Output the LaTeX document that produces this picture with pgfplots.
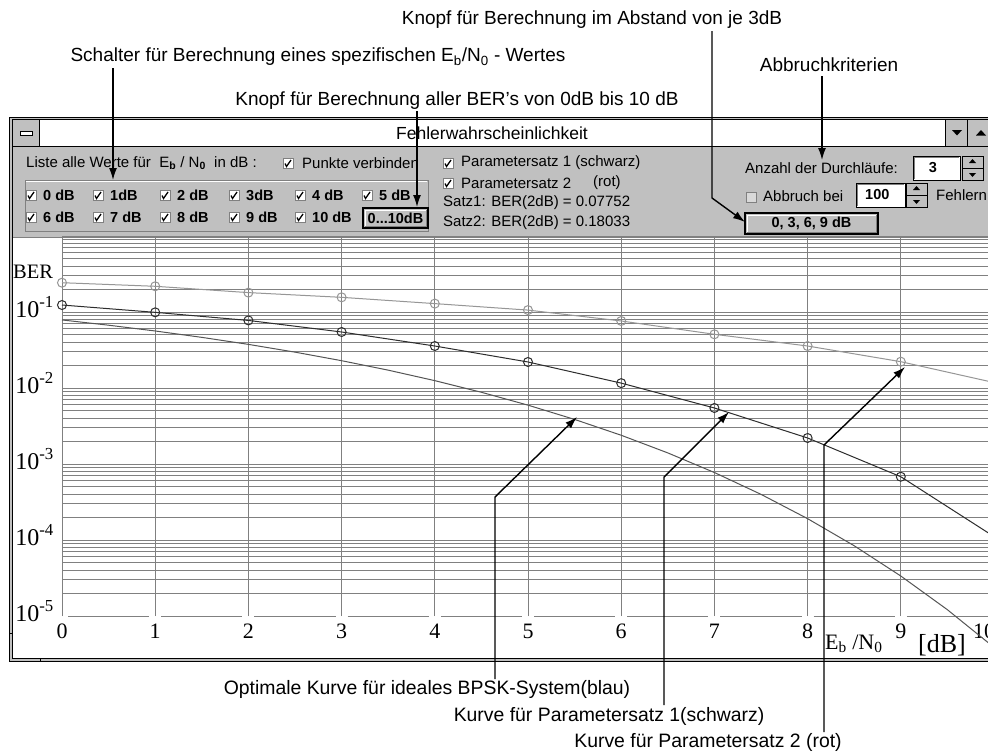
\documentclass[border=0pt]{standalone}
\usepackage{fontspec}
\setmainfont{Liberation Sans}
\newfontfamily\tnr{Liberation Serif}
\usepackage{pgfplots}
\pgfplotsset{compat=1.18}
\usetikzlibrary{arrows.meta}
\definecolor{wgray}{RGB}{192,192,192}
\definecolor{dgray}{RGB}{128,128,128}
\definecolor{gridc}{RGB}{128,128,128}
\definecolor{ctwo}{RGB}{150,150,150}
\definecolor{cone}{RGB}{45,45,45}
\definecolor{cbpsk}{RGB}{85,85,85}
\newcommand\fs[1]{\fontsize{#1pt}{#1pt}\selectfont}
\newcommand\cb[2]{%
  \filldraw[fill=white,draw=dgray] (#1,#2-5) rectangle ++(10,10);
  \draw[line width=1.3pt] (#1+2,#2+0.5) -- (#1+3.5,#2+3.5) -- (#1+8,#2-3);}
\newcommand\btn[4]{%
  \filldraw[fill=wgray,draw=black,line width=1.5pt] (#1,#2) rectangle (#3,#4);
  \draw[white,line width=1pt] (#1+2,#4-2) -- (#1+2,#2+2) -- (#3-2,#2+2);
  \draw[dgray,line width=1pt] (#1+2,#4-2) -- (#3-2,#4-2) -- (#3-2,#2+2);}
\newcommand\spin[4]{%
  \filldraw[fill=wgray,draw=black] (#1,#2) rectangle (#3,#4);
  \draw[black] (#1,{(#2+#4)/2}) -- (#3,{(#2+#4)/2});
  \fill ({(#1+#3)/2-3.5},{#2+7}) -- ({(#1+#3)/2+3.5},{#2+7}) -- ({(#1+#3)/2},{#2+3}) -- cycle;
  \fill ({(#1+#3)/2-3.5},{#4-7}) -- ({(#1+#3)/2+3.5},{#4-7}) -- ({(#1+#3)/2},{#4-3}) -- cycle;}
\tikzset{ann/.style={line width=1.4pt,-{Latex[length=12pt,width=8pt]}},
  every node/.style={inner sep=0pt}}
\begin{document}
\begin{tikzpicture}
\begin{scope}[x=1pt,y=-1pt]
  \fill[white] (0,0) rectangle (988,755);
  % window frame
  \filldraw[fill=wgray,draw=black] (9,117) rectangle (1000,661);
  \filldraw[fill=white,draw=black] (12.5,119) rectangle (997,658);
  \draw (40,658) -- (40,661);
  \draw (9,633) -- (12.5,633);
  % title bar
  \filldraw[fill=white,draw=black] (12.5,119) rectangle (997,146);
  \filldraw[fill=wgray,draw=black] (12.5,119) rectangle (39,146);
  \filldraw[fill=white,draw=black] (20,131.5) rectangle (32,135.5);
  \filldraw[fill=wgray,draw=black] (945,119) rectangle (967,146);
  \filldraw[fill=wgray,draw=black] (967,119) rectangle (990,146);
  \fill (952,130) -- (962,130) -- (957,135.5) -- cycle;
  \fill (976,135.5) -- (986,135.5) -- (981,130) -- cycle;
  \node[font=\fs{17.5}] at (492,133) {Fehlerwahrscheinlichkeit};
  % panel
  \fill[wgray] (13,146.5) rectangle (996.5,237);
  \draw[dgray] (13,237) -- (996.5,237);
  \begin{scope}[font=\fs{15}]
    \node[anchor=west] at (26,163) {Liste alle Werte für~ E\textsubscript{\textbf{b}} / N\textsubscript{\textbf{0}}~ in dB :};
    \cb{283}{163}
    \node[anchor=west] at (302,163) {Punkte verbinden};
    \draw[dgray] (25,180) rectangle (428,231);
    \draw[white] (26,181) -- (427,181);
    \foreach \x/\t in {26/0 dB,93/1dB,160/2 dB,229/3dB,295/4 dB,362/5 dB}{
      \cb{\x}{195}
      \node[anchor=west,font=\fs{14.5}\bfseries] at (\x+17,195) {\t};}
    \foreach \x/\t in {26/6 dB,93/7 dB,160/8 dB,229/9 dB,295/10 dB}{
      \cb{\x}{217}
      \node[anchor=west,font=\fs{14.5}\bfseries] at (\x+17,217) {\t};}
    \btn{363}{208}{428}{228}
    \node[font=\fs{14.5}\bfseries] at (395.5,218) {0...10dB};
    \cb{443}{163}
    \node[anchor=west] at (461,163) {Parametersatz 1 (schwarz)};
    \cb{443}{183}
    \node[anchor=west] at (461,183) {Parametersatz 2};
    \node[anchor=west] at (593,183) {(rot)};
    \node[anchor=west] at (443,203) {Satz1: BER(2dB) = 0.07752};
    \node[anchor=west] at (443,223) {Satz2: BER(2dB) = 0.18033};
    \node[anchor=east] at (898,168) {Anzahl der Durchläufe:};
    \filldraw[fill=white,draw=black] (913,156) rectangle (960,180);
    \draw[dgray] (914,179) -- (914,157) -- (959,157);
    \node[font=\fs{14.5}\bfseries] at (933,168) {3};
    \spin{962}{156}{983}{180}
    \filldraw[fill=wgray!60!white,draw=dgray] (746,192) rectangle (756,202);
    \node[anchor=west] at (763,196) {Abbruch bei};
    \filldraw[fill=white,draw=black] (856,183) rectangle (905,207);
    \draw[dgray] (857,206) -- (857,184) -- (904,184);
    \node[anchor=west,font=\fs{14.5}\bfseries] at (865,195) {100};
    \spin{906}{183}{927}{207}
    \node[anchor=west] at (936,195) {Fehlern};
    \btn{745}{213}{878}{234}
    \node[font=\fs{14.5}\bfseries] at (811.5,223.5) {0, 3, 6, 9 dB};
  \end{scope}
\end{scope}

\begin{axis}[
  at={(62pt,-616pt)}, anchor=south west,
  width=932pt, height=380pt, scale only axis,
  xmin=0, xmax=10, ymin=1e-5, ymax=1,
  ymode=log, clip=false,
  axis line style={draw=none}, tick style={draw=none},
  xtick={0,1,2,3,4,5,6,7,8,9,10},
  xticklabels={0,1,2,3,4,5,6,7,8,9,{\hspace*{-20pt}10}},
  ytick={1e-4,1e-3,1e-2,1e-1,1},
  yticklabels={10\textsuperscript{-4},10\textsuperscript{-3},10\textsuperscript{-2},10\textsuperscript{-1},{}},
  extra y ticks={1e-5},
  extra y tick labels={10\textsuperscript{-5}},
  extra y tick style={grid=none},
  minor ytick={2e-5,3e-5,4e-5,5e-5,6e-5,7e-5,8e-5,9e-5,
    2e-4,3e-4,4e-4,5e-4,6e-4,7e-4,8e-4,9e-4,
    2e-3,3e-3,4e-3,5e-3,6e-3,7e-3,8e-3,9e-3,
    2e-2,3e-2,4e-2,5e-2,6e-2,7e-2,8e-2,9e-2,
    0.2,0.3,0.4,0.5,0.6,0.7,0.8,0.9},
  xmajorgrids=true, ymajorgrids=true, yminorgrids=true,
  major grid style={gridc,line width=1pt},
  minor grid style={gridc,line width=1pt},
  xticklabel style={font=\tnr\fs{22}, anchor=base, inner sep=0pt, yshift=-22pt},
  yticklabel style={font=\tnr\fs{24}, anchor=base east, inner sep=0pt, xshift=-8pt, yshift=-5pt},
]
\addplot[gridc, line width=1pt, dash pattern=on 81.2pt off 12pt, dash phase=87.2pt]
  coordinates {(0,1e-5) (10,1e-5)};
\addplot[cbpsk, line width=1pt] coordinates {
  (0,0.07865) (0.5,0.06706) (1,0.05628) (1.5,0.04640) (2,0.03751) (2.5,0.02965)
  (3,0.02288) (3.5,0.01718) (4,0.01250) (4.5,0.00879) (5,0.00595) (5.5,0.00386)
  (6,0.00239) (6.5,0.00140) (7,7.73e-4) (7.5,3.99e-4) (8,1.91e-4) (8.5,8.40e-5)
  (9,3.36e-5) (9.5,1.21e-5) (10,3.87e-6)};
\addplot[ctwo, line width=1pt, mark=o, mark size=4.5pt, mark options={line width=1pt}] coordinates {
  (0,0.243) (1,0.218) (2,0.180) (3,0.156) (4,0.129) (5,0.106) (6,0.0762)
  (7,0.0509) (8,0.0357) (9,0.0222) (10,0.0118)};
\addplot[cone, line width=1pt, mark=o, mark size=4.5pt, mark options={line width=1pt}] coordinates {
  (0,0.1236) (1,0.099) (2,0.0775) (3,0.0546) (4,0.0357) (5,0.022) (6,0.0116)
  (7,0.00546) (8,0.0022) (9,0.00068) (10,0.000111)};
\end{axis}

\begin{scope}[x=1pt,y=-1pt]
  \node[anchor=base west,font=\tnr\fs{20.5}] at (13,278) {BER};
  \node[anchor=base west,font=\tnr\fs{22}] at (825,649) {E\textsubscript{b} /N\textsubscript{0}};
  \node[anchor=base west,font=\tnr\fs{26}] at (918,652) {[dB]};
  % annotations
  \begin{scope}[font=\fs{19}]
    \node at (592,20) {Knopf für Berechnung im Abstand von je 3dB};
    \node at (318,57) {Schalter für Berechnung eines spezifischen E\textsubscript{b}/N\textsubscript{0} - Wertes};
    \node at (829,65) {Abbruchkriterien};
    \node at (457,101) {Knopf für Berechnung aller BER's von 0dB bis 10 dB};
    \node[font=\fs{19.4}] at (427,689) {Optimale Kurve für ideales BPSK-System(blau)};
    \node[font=\fs{19.4}] at (609,716) {Kurve für Parametersatz 1(schwarz)};
    \node[font=\fs{19.4}] at (708,742) {Kurve für Parametersatz 2 (rot)};
  \end{scope}
  \draw[ann] (113,68) -- (113,180);
  \draw[ann] (417,111) -- (417,207);
  \draw[ann] (712,31) -- (712,198) -- (745,222);
  \draw[ann] (822,76) -- (822,160);
  \draw[ann] (495,679) -- (495,497) -- (577,417);
  \draw[ann] (664,705) -- (664,477) -- (729,412);
  \draw[ann] (824,732) -- (824,445) -- (905,367);
  \pgfresetboundingbox
  \path[use as bounding box] (0,0) rectangle (988,755);
\end{scope}
\end{tikzpicture}
\end{document}
